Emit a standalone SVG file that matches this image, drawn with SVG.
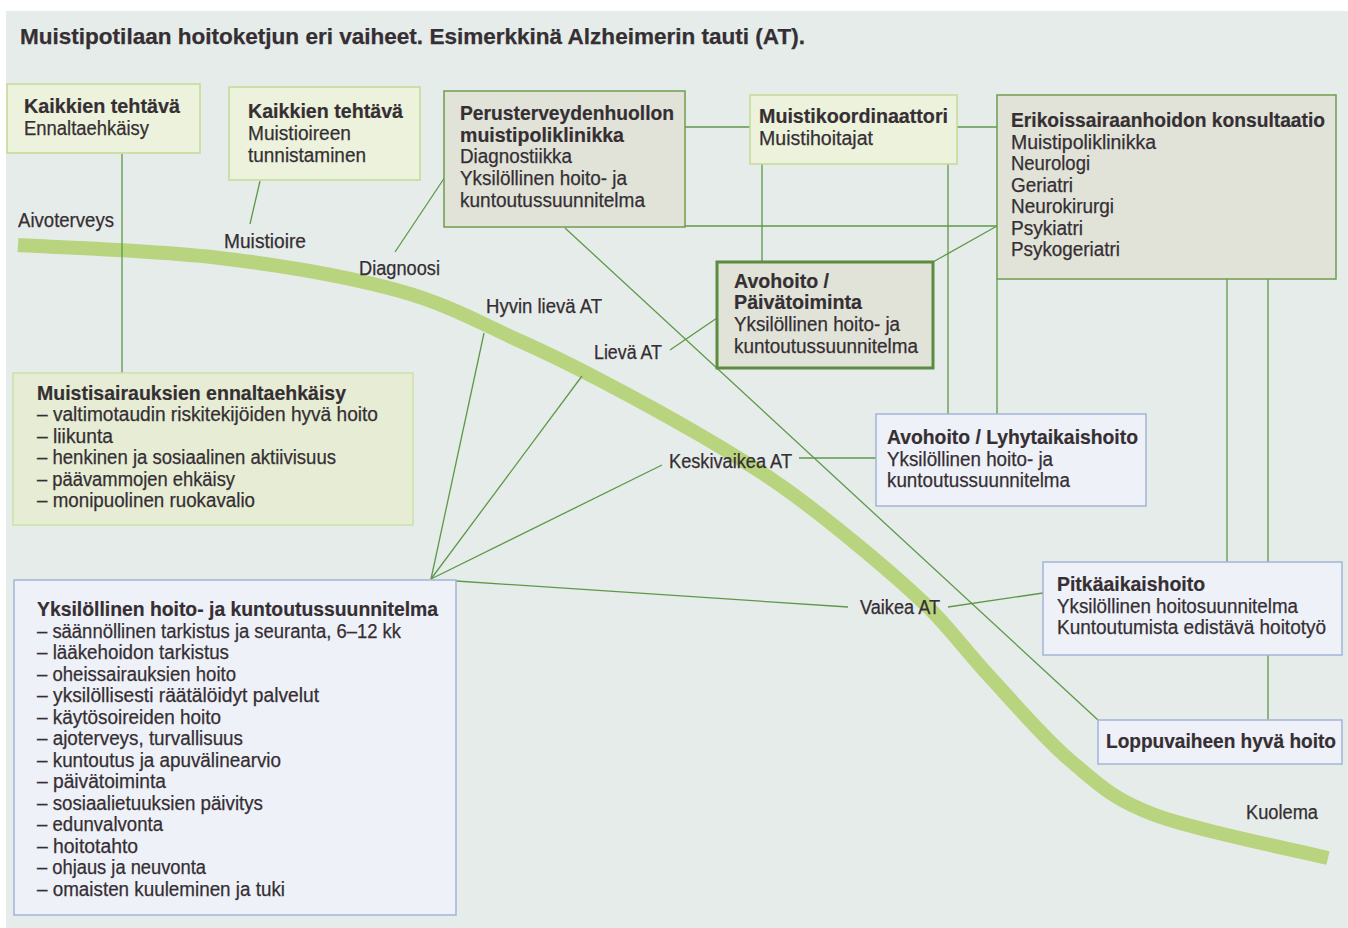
<svg xmlns="http://www.w3.org/2000/svg" width="1348" height="928" viewBox="0 0 1348 928">
<style>
text{font-family:"Liberation Sans Narrow","Liberation Sans",Arial,sans-serif;font-size:19.5px;fill:#352f33;stroke:#352f33;stroke-width:0.25}
.b{font-weight:bold;stroke-width:0.2}
.t{font-size:22px;font-weight:bold}
.gbox{fill:#edf2dc;stroke:#c3da95;stroke-width:1.5}
.pbox{fill:#e6edd4;stroke:#cde0a6;stroke-width:1.5}
.kbox{fill:#e1e3d9;stroke:#6f9c4e;stroke-width:1.5}
.thick{fill:#e1e3d8;stroke:#5b8c40;stroke-width:3}
.bbox{fill:#eff1f8;stroke:#a3b4d8;stroke-width:1.5}
.con path{fill:none;stroke:#5e9848;stroke-width:1.3}
</style>
<rect x="0" y="0" width="1348" height="928" fill="#ffffff"/>
<rect x="6" y="11" width="1342" height="917" fill="#e6ecea"/>
<text class="t" x="20" y="44" textLength="785" lengthAdjust="spacingAndGlyphs">Muistipotilaan hoitoketjun eri vaiheet. Esimerkkinä Alzheimerin tauti (AT).</text>
<path id="curve" d="M18,245 C51.7,247.2 156.3,250.3 220,258 C283.7,265.7 350,277.2 400,291 C450,304.8 486.7,326.2 520,341 C553.3,355.8 570,364.3 600,380 C630,395.7 670,417.5 700,435 C730,452.5 753.3,466.3 780,485 C806.7,503.7 835,526.3 860,547 C885,567.7 908.3,587.3 930,609 C951.7,630.7 966.3,651.5 990,677 C1013.7,702.5 1044.5,739 1072,762 C1099.5,785 1112.3,799 1155,815 C1197.7,831 1299.2,850.8 1328,858" fill="none" stroke="#b9d47e" stroke-width="14"/>
<g class="con" id="connectors">
<path d="M122,154 V373"/>
<path d="M260,181 L250,224"/>
<path d="M445,177 L395,252"/>
<path d="M565,228 L1098,720"/>
<path d="M685,127 H750"/>
<path d="M957,127 H997"/>
<path d="M685,226 H997"/>
<path d="M762,164 V262"/>
<path d="M948,164 V414"/>
<path d="M997,279 V414"/>
<path d="M1227,279 V562"/>
<path d="M1268,279 V562"/>
<path d="M1268,655 V720"/>
<path d="M933,262 L997,226"/>
<path d="M717,318 L670,350"/>
<path d="M799,458 H876"/>
<path d="M948,607 L1043,593"/>
<path d="M431,579 L484,333"/>
<path d="M431,579 L582,376"/>
<path d="M431,579 L662,465"/>
<path d="M456,581 L848,607"/>
</g>
<g id="n-ennalta">
<rect class="gbox" x="7" y="84" width="193" height="69"/>
<text class="b" x="24" y="113" textLength="156" lengthAdjust="spacingAndGlyphs">Kaikkien tehtävä</text>
<text x="24" y="135" textLength="125" lengthAdjust="spacingAndGlyphs">Ennaltaehkäisy</text>
</g>
<g id="n-tunnistaminen">
<rect class="gbox" x="229" y="87" width="191" height="93"/>
<text class="b" x="248" y="118" textLength="155" lengthAdjust="spacingAndGlyphs">Kaikkien tehtävä</text>
<text x="248" y="140" textLength="103" lengthAdjust="spacingAndGlyphs">Muistioireen</text>
<text x="248" y="162" textLength="118" lengthAdjust="spacingAndGlyphs">tunnistaminen</text>
</g>
<g id="n-perus">
<rect class="kbox" x="444" y="91" width="241" height="136"/>
<text class="b" x="460" y="120" textLength="214" lengthAdjust="spacingAndGlyphs">Perusterveydenhuollon</text>
<text class="b" x="460" y="142" textLength="164" lengthAdjust="spacingAndGlyphs">muistipoliklinikka</text>
<text x="460" y="163" textLength="112" lengthAdjust="spacingAndGlyphs">Diagnostiikka</text>
<text x="460" y="185" textLength="167" lengthAdjust="spacingAndGlyphs">Yksilöllinen hoito- ja</text>
<text x="460" y="207" textLength="185" lengthAdjust="spacingAndGlyphs">kuntoutussuunnitelma</text>
</g>
<g id="n-koordinaattori">
<rect class="gbox" x="750" y="95" width="207" height="69"/>
<text class="b" x="759" y="123" textLength="189" lengthAdjust="spacingAndGlyphs">Muistikoordinaattori</text>
<text x="759" y="145" textLength="114" lengthAdjust="spacingAndGlyphs">Muistihoitajat</text>
</g>
<g id="n-erikois">
<rect class="kbox" x="997" y="95" width="339" height="184"/>
<text class="b" x="1011" y="127" textLength="314" lengthAdjust="spacingAndGlyphs">Erikoissairaanhoidon konsultaatio</text>
<text x="1011" y="148.5" textLength="145" lengthAdjust="spacingAndGlyphs">Muistipoliklinikka</text>
<text x="1011" y="170" textLength="79" lengthAdjust="spacingAndGlyphs">Neurologi</text>
<text x="1011" y="191.5" textLength="62" lengthAdjust="spacingAndGlyphs">Geriatri</text>
<text x="1011" y="213" textLength="103" lengthAdjust="spacingAndGlyphs">Neurokirurgi</text>
<text x="1011" y="234.5" textLength="72" lengthAdjust="spacingAndGlyphs">Psykiatri</text>
<text x="1011" y="256" textLength="109" lengthAdjust="spacingAndGlyphs">Psykogeriatri</text>
</g>
<g id="n-paivatoiminta">
<rect class="thick" x="717" y="262" width="216" height="106"/>
<text class="b" x="734" y="288" textLength="95" lengthAdjust="spacingAndGlyphs">Avohoito /</text>
<text class="b" x="734" y="309" textLength="128" lengthAdjust="spacingAndGlyphs">Päivätoiminta</text>
<text x="734" y="331" textLength="166" lengthAdjust="spacingAndGlyphs">Yksilöllinen hoito- ja</text>
<text x="734" y="352.5" textLength="184" lengthAdjust="spacingAndGlyphs">kuntoutussuunnitelma</text>
</g>
<g id="n-lyhytaikais">
<rect class="bbox" x="876" y="414" width="270" height="92"/>
<text class="b" x="887" y="444" textLength="251" lengthAdjust="spacingAndGlyphs">Avohoito / Lyhytaikaishoito</text>
<text x="887" y="465.5" textLength="166" lengthAdjust="spacingAndGlyphs">Yksilöllinen hoito- ja</text>
<text x="887" y="487" textLength="183" lengthAdjust="spacingAndGlyphs">kuntoutussuunnitelma</text>
</g>
<g id="n-pitkaaikais">
<rect class="bbox" x="1043" y="562" width="299" height="93"/>
<text class="b" x="1057" y="591" textLength="148" lengthAdjust="spacingAndGlyphs">Pitkäaikaishoito</text>
<text x="1057" y="612.5" textLength="241" lengthAdjust="spacingAndGlyphs">Yksilöllinen hoitosuunnitelma</text>
<text x="1057" y="634" textLength="269" lengthAdjust="spacingAndGlyphs">Kuntoutumista edistävä hoitotyö</text>
</g>
<g id="n-loppuvaihe">
<rect class="bbox" x="1098" y="720" width="244" height="44"/>
<text class="b" x="1106" y="748" textLength="230" lengthAdjust="spacingAndGlyphs">Loppuvaiheen hyvä hoito</text>
</g>
<g id="n-ehkaisy">
<rect class="pbox" x="13" y="373" width="400" height="152"/>
<text class="b" x="37" y="400" textLength="309" lengthAdjust="spacingAndGlyphs">Muistisairauksien ennaltaehkäisy</text>
<text x="37" y="421" textLength="341" lengthAdjust="spacingAndGlyphs">– valtimotaudin riskitekijöiden hyvä hoito</text>
<text x="37" y="442.5" textLength="76" lengthAdjust="spacingAndGlyphs">– liikunta</text>
<text x="37" y="464" textLength="299" lengthAdjust="spacingAndGlyphs">– henkinen ja sosiaalinen aktiivisuus</text>
<text x="37" y="485.5" textLength="198" lengthAdjust="spacingAndGlyphs">– päävammojen ehkäisy</text>
<text x="37" y="507" textLength="218" lengthAdjust="spacingAndGlyphs">– monipuolinen ruokavalio</text>
</g>
<g id="n-suunnitelma">
<rect class="bbox" x="14" y="580" width="442" height="335"/>
<text class="b" x="37" y="616" textLength="401" lengthAdjust="spacingAndGlyphs">Yksilöllinen hoito- ja kuntoutussuunnitelma</text>
<text x="37" y="637.5" textLength="364" lengthAdjust="spacingAndGlyphs">– säännöllinen tarkistus ja seuranta, 6–12 kk</text>
<text x="37" y="659" textLength="192" lengthAdjust="spacingAndGlyphs">– lääkehoidon tarkistus</text>
<text x="37" y="680.5" textLength="199" lengthAdjust="spacingAndGlyphs">– oheissairauksien hoito</text>
<text x="37" y="702" textLength="282" lengthAdjust="spacingAndGlyphs">– yksilöllisesti räätälöidyt palvelut</text>
<text x="37" y="723.5" textLength="184" lengthAdjust="spacingAndGlyphs">– käytösoireiden hoito</text>
<text x="37" y="745" textLength="206" lengthAdjust="spacingAndGlyphs">– ajoterveys, turvallisuus</text>
<text x="37" y="766.5" textLength="244" lengthAdjust="spacingAndGlyphs">– kuntoutus ja apuvälinearvio</text>
<text x="37" y="788" textLength="129" lengthAdjust="spacingAndGlyphs">– päivätoiminta</text>
<text x="37" y="809.5" textLength="226" lengthAdjust="spacingAndGlyphs">– sosiaalietuuksien päivitys</text>
<text x="37" y="831" textLength="126" lengthAdjust="spacingAndGlyphs">– edunvalvonta</text>
<text x="37" y="852.5" textLength="101" lengthAdjust="spacingAndGlyphs">– hoitotahto</text>
<text x="37" y="874" textLength="169" lengthAdjust="spacingAndGlyphs">– ohjaus ja neuvonta</text>
<text x="37" y="895.5" textLength="248" lengthAdjust="spacingAndGlyphs">– omaisten kuuleminen ja tuki</text>
</g>
<g id="labels">
<text x="18" y="227" textLength="96" lengthAdjust="spacingAndGlyphs">Aivoterveys</text>
<text x="224" y="248" textLength="82" lengthAdjust="spacingAndGlyphs">Muistioire</text>
<text x="359" y="275" textLength="81" lengthAdjust="spacingAndGlyphs">Diagnoosi</text>
<text x="486" y="313" textLength="116" lengthAdjust="spacingAndGlyphs">Hyvin lievä AT</text>
<text x="594" y="359" textLength="68" lengthAdjust="spacingAndGlyphs">Lievä AT</text>
<text x="669" y="468" textLength="123" lengthAdjust="spacingAndGlyphs">Keskivaikea AT</text>
<text x="860" y="614" textLength="80" lengthAdjust="spacingAndGlyphs">Vaikea AT</text>
<text x="1246" y="819" textLength="72" lengthAdjust="spacingAndGlyphs">Kuolema</text>
</g>
</svg>
